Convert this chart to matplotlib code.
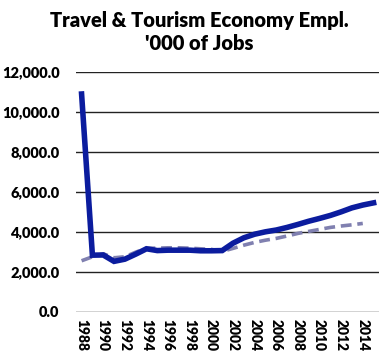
import matplotlib
matplotlib.use("Agg")
import matplotlib.pyplot as plt
from matplotlib.ticker import FuncFormatter
import numpy as np

years = list(range(1988, 2016))
employment = [10900, 2830, 2840, 2520, 2630, 2880, 3150, 3060, 3080, 3080, 3080, 3050,
              3050, 3060, 3430, 3700, 3880, 4000, 4090, 4220, 4370, 4530, 4670, 4820,
              5000, 5200, 5340, 5450]
trend = [2550, 2750, 2900, 2700, 2750, 2980, 3180, 3180, 3200, 3200, 3180, 3150,
         3120, 3020, 3170, 3330, 3470, 3580, 3670, 3790, 3920, 4020, 4120, 4220,
         4290, 4350, 4420, np.nan]
yticks = [0, 2000, 4000, 6000, 8000, 10000, 12000]
title = "Travel & Tourism Economy Empl.\n'000 of Jobs"

plt.rcParams['font.family'] = ['Lato', 'DejaVu Sans']
WEIGHT = 'heavy'

fig = plt.figure(figsize=(3.79, 3.54), dpi=100)
ax = fig.add_axes([0.201, 0.1195, 0.799, 0.677])

x = np.arange(len(years))
ax.plot(x, trend, color='#8080B0', linewidth=2.6, linestyle=(0, (3, 1.6)),
        solid_capstyle='butt', dash_capstyle='butt', zorder=2)
ax.plot(x, employment, color='#0B1C9E', linewidth=4.0, solid_joinstyle='miter',
        zorder=3)

ax.set_xlim(-0.5, len(years) - 0.5)
ax.set_ylim(0, 12000)
ax.set_yticks(yticks)
ax.yaxis.set_major_formatter(FuncFormatter(lambda v, p: f"{v:,.1f}"))
ax.grid(axis='y', color='#222222', linewidth=1.0)
ax.set_axisbelow(True)

ax.set_xticks(x[::2])
ax.set_xticklabels([str(y) for y in years[::2]], rotation=-90, fontweight=WEIGHT,
                   fontsize=10, va='top', ha='center')
for lab in ax.get_yticklabels():
    lab.set_fontweight(WEIGHT)
    lab.set_fontsize(10.5)

ax.tick_params(axis='both', length=0)
ax.tick_params(axis='y', pad=12)
ax.tick_params(axis='x', pad=5)
for s in ax.spines.values():
    s.set_visible(False)

fig.text(0.527, 0.968, title, ha='center', va='top', fontsize=14.5,
         fontweight=WEIGHT, linespacing=1.2)

fig.savefig("out.png", dpi=100)
